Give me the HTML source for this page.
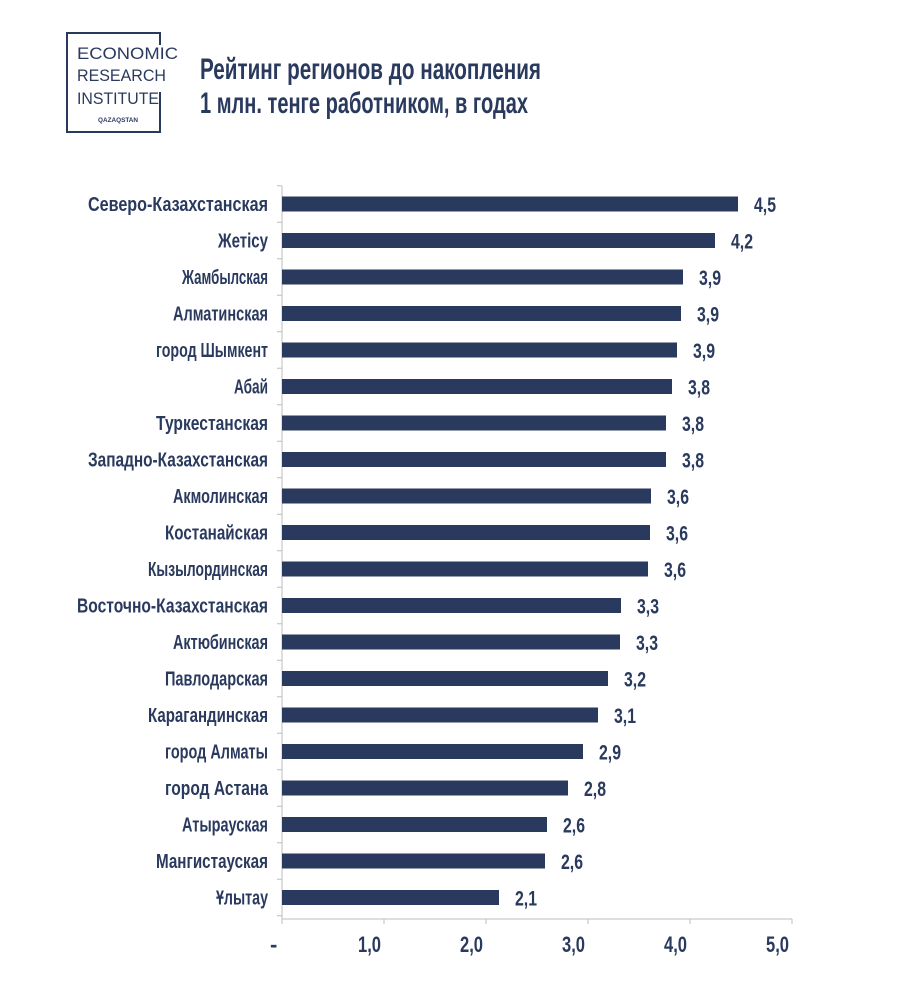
<!DOCTYPE html>
<html><head><meta charset="utf-8"><style>
body{margin:0;background:#fff;width:924px;height:1005px;overflow:hidden}
svg{display:block}
text{font-family:"Liberation Sans Narrow","Liberation Sans",sans-serif;font-weight:bold;fill:#2a3a5e}
</style></head><body>
<svg width="924" height="1005" viewBox="0 0 924 1005" xmlns="http://www.w3.org/2000/svg">
<g stroke="#2a3a5e" stroke-width="2" fill="none">
<polyline points="160,45 160,33 67,33 67,132 160,132 160,92"/>
</g>
<g style="font-family:'Liberation Sans',sans-serif;font-weight:normal">
<text x="77" y="59" font-size="17" textLength="101" lengthAdjust="spacingAndGlyphs" style="font-weight:normal">ECONOMIC</text>
<text x="77" y="81" font-size="17" textLength="89" lengthAdjust="spacingAndGlyphs" style="font-weight:normal">RESEARCH</text>
<text x="77" y="104" font-size="17" textLength="82" lengthAdjust="spacingAndGlyphs" style="font-weight:normal">INSTITUTE</text>
<text x="98" y="122" font-size="6" textLength="40" lengthAdjust="spacingAndGlyphs">QAZAQSTAN</text>
</g>
<text x="200" y="79" font-size="30" textLength="341" lengthAdjust="spacingAndGlyphs">Рейтинг  регионов до накопления</text>
<text x="200" y="113" font-size="30" textLength="328" lengthAdjust="spacingAndGlyphs">1 млн. тенге работником, в годах</text>
<g stroke="#bdbdbd" stroke-width="1">
<line x1="282" y1="186" x2="282" y2="919"/>
<line x1="282" y1="919" x2="792" y2="919"/>
</g>
<g id="chart"></g>
</svg>
<script>
var d=[["Северо-Казахстанская",738,"4,5"],["Жетісу",715,"4,2"],["Жамбылская",683,"3,9"],["Алматинская",681,"3,9"],["город Шымкент",677,"3,9"],["Абай",672,"3,8"],["Туркестанская",666,"3,8"],["Западно-Казахстанская",666,"3,8"],["Акмолинская",651,"3,6"],["Костанайская",650,"3,6"],["Кызылординская",648,"3,6"],["Восточно-Казахстанская",621,"3,3"],["Актюбинская",620,"3,3"],["Павлодарская",608,"3,2"],["Карагандинская",598,"3,1"],["город Алматы",583,"2,9"],["город Астана",568,"2,8"],["Атырауская",547,"2,6"],["Мангистауская",545,"2,6"],["Ұлытау",499,"2,1"]];
var w={"Северо-Казахстанская":180,"Жетісу":50,"Западно-Казахстанская":180,"Восточно-Казахстанская":191};
var s='';
for(var i=0;i<d.length;i++){var c=204+i*36.5;
var L=w[d[i][0]]||Math.round(d[i][0].length*8.6);
s+='<rect x="282" y="'+(c-7.5)+'" width="'+(d[i][1]-282)+'" height="15" fill="#2a3a5e"/>';
s+='<text x="'+(268-L)+'" y="'+(c+7)+'" font-size="20" textLength="'+L+'" lengthAdjust="spacingAndGlyphs">'+d[i][0]+'</text>';
s+='<text x="'+(d[i][1]+16)+'" y="'+(c+8)+'" font-size="21" textLength="22" lengthAdjust="spacingAndGlyphs">'+d[i][2]+'</text>';
s+='<line x1="277" x2="282" y1="'+(c-18.25)+'" y2="'+(c-18.25)+'" stroke="#bdbdbd"/>';}
s+='<line x1="277" x2="282" y1="915.75" y2="915.75" stroke="#bdbdbd"/>';
var lb=["-","1,0","2,0","3,0","4,0","5,0"];
for(var k=0;k<6;k++){var x=282+k*102;
s+='<line x1="'+x+'" x2="'+x+'" y1="919" y2="924" stroke="#bdbdbd"/>';
if(k==0)s+='<text x="270" y="952" font-size="22">-</text>';
else s+='<text x="'+(x-26)+'" y="952" font-size="22" textLength="23" lengthAdjust="spacingAndGlyphs">'+lb[k]+'</text>';}
document.getElementById('chart').innerHTML=s;
</script>
</body></html>
